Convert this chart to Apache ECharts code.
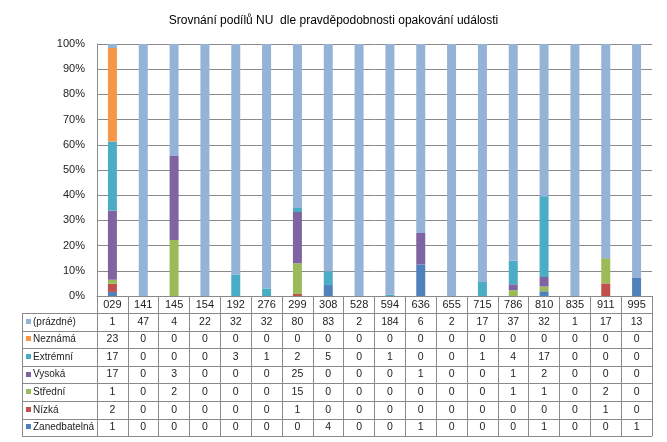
<!DOCTYPE html>
<html><head><meta charset="utf-8">
<script src="https://cdn.jsdelivr.net/npm/echarts@6/dist/echarts.min.js"></script>
<style>html,body{margin:0;padding:0;background:#fff}#c{width:667px;height:442px}</style>
</head><body><div id="c"></div>
<script>
const title = 'Srovnání podílů NU  dle pravděpodobnosti opakování události';
const categories = ['029','141','145','154','192','276','299','308','528','594','636','655','715','786','810','835','911','995'];
const seriesNames = ['Zanedbatelná','Nízká','Střední','Vysoká','Extrémní','Neznámá','(prázdné)'];
const zanedbatelna = [1,0,0,0,0,0,0,4,0,0,1,0,0,0,1,0,0,1];
const nizka        = [2,0,0,0,0,0,1,0,0,0,0,0,0,0,0,0,1,0];
const stredni      = [1,0,2,0,0,0,15,0,0,0,0,0,0,1,1,0,2,0];
const vysoka       = [17,0,3,0,0,0,25,0,0,0,1,0,0,1,2,0,0,0];
const extremni     = [17,0,0,0,3,1,2,5,0,1,0,0,1,4,17,0,0,0];
const neznama      = [23,0,0,0,0,0,0,0,0,0,0,0,0,0,0,0,0,0];
const prazdne      = [1,47,4,22,32,32,80,83,2,184,6,2,17,37,32,1,17,13];
const yTicks = [0,10,20,30,40,50,60,70,80,90,100];
const colors = ['#4F81BD','#C0504D','#9BBB59','#8064A2','#4BACC6','#F79646','#95B3D7'];

const values = [zanedbatelna, nizka, stredni, vysoka, extremni, neznama, prazdne];
const totals = categories.map((c,i)=>values.reduce((s,a)=>s+a[i],0));

const chart = echarts.init(document.getElementById('c'), null, {renderer:'canvas'});
const FONT = 'Liberation Sans, Arial, sans-serif';
const gridTop = 44, gridBottom = 146, gridLeft = 97, gridRight = 15;
const rowTop = 313, rowH = 17.6, tableLeft = 22, tableBottom = 436;
const lineColor = '#8a8a8a';

chart.setOption({
  animation:false,
  backgroundColor:'#fff',
  title:{text:title,left:'center',top:10,textStyle:{fontFamily:FONT,fontSize:12,fontWeight:'normal',color:'#000'}},
  grid:{left:gridLeft,right:gridRight,top:gridTop,bottom:gridBottom},
  xAxis:{type:'category',data:categories,
    axisLine:{show:true,lineStyle:{color:lineColor}},
    axisTick:{show:true,length:tableBottom-(442-gridBottom),lineStyle:{color:lineColor}},
    axisLabel:{fontFamily:FONT,fontSize:11,color:'#222',margin:3}},
  yAxis:{type:'value',min:yTicks[0],max:yTicks[yTicks.length-1],interval:yTicks[1]-yTicks[0],
    axisLine:{show:true,lineStyle:{color:lineColor}},
    axisTick:{show:false},
    splitLine:{lineStyle:{color:lineColor}},
    axisLabel:{formatter:v=>v+'%',fontFamily:FONT,fontSize:11,color:'#222',margin:12}},
  series: seriesNames.map((n,k)=>({
    name:n,type:'bar',stack:'s',barWidth:9,
    itemStyle:{color:colors[k]},
    data: values[k].map((v,i)=>v/totals[i]*100)
  }))
});

// data table
const g = [];
const xRight = 667-gridRight;
for(let r=0;r<=seriesNames.length;r++){
  const y = Math.round(rowTop + r*rowH)+0.5;
  g.push({type:'line',shape:{x1:tableLeft,y1:y,x2:xRight,y2:y},style:{stroke:lineColor,lineWidth:1}});
}
g.push({type:'line',shape:{x1:tableLeft+0.5,y1:rowTop+0.5,x2:tableLeft+0.5,y2:tableBottom},style:{stroke:lineColor,lineWidth:1}});
const rowOrder = [6,5,4,3,2,1,0];
rowOrder.forEach((k,r)=>{
  const yc = rowTop + r*rowH + rowH/2;
  g.push({type:'rect',shape:{x:26,y:Math.round(yc-3),width:5,height:5},style:{fill:colors[k]}});
  g.push({type:'text',x:33,y:yc,style:{text:seriesNames[k],font:'10px '+FONT,fill:'#222',textVerticalAlign:'middle',verticalAlign:'middle'}});
  categories.forEach((c,i)=>{
    const px = chart.convertToPixel({xAxisIndex:0}, c);
    g.push({type:'text',x:px,y:yc,style:{text:String(values[k][i]),font:'10.5px '+FONT,fill:'#222',align:'center',textAlign:'center',verticalAlign:'middle',textVerticalAlign:'middle'}});
  });
});
chart.setOption({graphic:{elements:g}});
</script></body></html>
